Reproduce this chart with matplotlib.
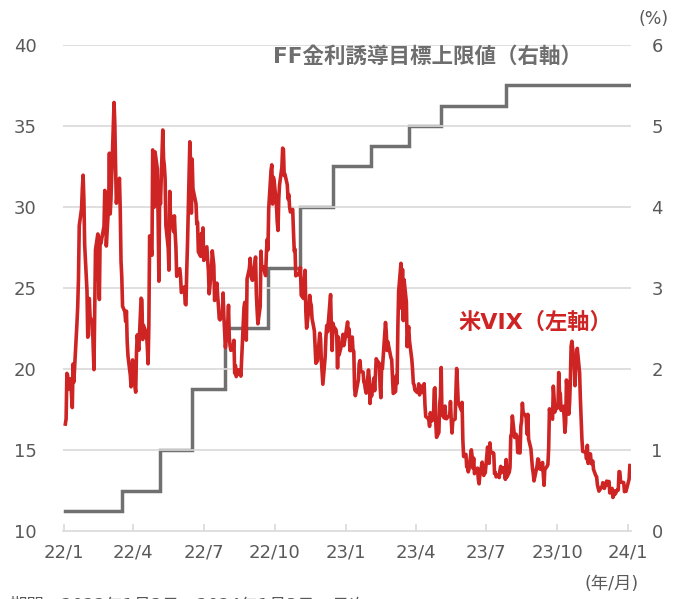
import numpy as np
import pandas as pd
import matplotlib
matplotlib.use("Agg")
import matplotlib.pyplot as plt
import matplotlib.dates as mdates

plt.rcParams['font.family'] = ['DejaVu Sans', 'Noto Sans CJK JP']

# ---- VIX daily closes, by month ----
vix_2022_01 = [16.60, 16.91, 19.73, 19.61, 18.76, 19.40, 18.41, 17.62, 20.31, 19.19, 22.79, 23.85, 25.59, 28.85, 29.90, 31.16, 31.96, 30.49, 27.66, 24.83]
vix_2022_02 = [21.96, 22.09, 24.35, 23.22, 22.86, 21.44, 19.96, 23.91, 27.36, 28.33, 25.70, 24.29, 28.11, 27.75, 28.81, 31.02, 30.32, 27.59, 30.15]
vix_2022_03 = [33.32, 29.57, 30.48, 31.98, 36.45, 35.13, 32.45, 30.23, 30.75, 31.77, 29.83, 26.67, 25.67, 23.87, 23.53, 22.94, 23.57, 21.67, 20.81, 19.63, 18.90, 19.33, 20.56]
vix_2022_04 = [19.63, 18.57, 21.03, 22.10, 21.55, 21.16, 24.37, 24.26, 21.82, 22.70, 22.17, 21.37, 20.32, 22.68, 28.21, 27.02, 33.52, 31.60, 29.99, 33.40]
vix_2022_05 = [32.34, 29.25, 25.42, 31.20, 30.19, 34.75, 32.99, 32.56, 31.77, 28.87, 27.47, 26.10, 30.96, 29.35, 29.43, 28.48, 29.45, 28.37, 27.50, 25.72, 26.19]
vix_2022_06 = [25.69, 24.72, 24.79, 25.07, 24.02, 23.96, 26.09, 27.75, 34.02, 32.69, 29.62, 32.95, 31.13, 30.19, 28.95, 29.05, 27.23, 26.95, 28.36, 28.16, 28.71]
vix_2022_07 = [26.70, 27.54, 26.73, 26.08, 24.64, 26.17, 27.29, 26.82, 26.40, 24.23, 25.30, 24.50, 23.88, 23.11, 23.03, 23.36, 24.69, 23.24, 22.33, 21.33]
vix_2022_08 = [22.84, 23.93, 21.95, 21.44, 21.15, 21.29, 21.77, 19.74, 20.20, 19.53, 19.95, 19.69, 19.90, 19.56, 20.60, 23.80, 24.11, 22.82, 21.78, 25.56, 26.21, 26.83, 25.87]
vix_2022_09 = [25.56, 25.47, 26.91, 24.64, 23.61, 22.79, 23.87, 27.27, 26.16, 26.27, 26.30, 25.76, 27.16, 27.99, 27.35, 29.92, 32.26, 32.60, 30.18, 31.84, 31.62]
vix_2022_10 = [30.10, 29.07, 28.55, 30.52, 31.36, 32.45, 33.63, 33.57, 31.94, 32.02, 31.37, 30.50, 30.76, 29.98, 29.69, 29.85, 28.46, 27.28, 27.39, 25.75, 25.88]
vix_2022_11 = [25.81, 25.86, 26.27, 24.55, 24.35, 25.54, 26.09, 23.53, 22.52, 23.73, 24.54, 24.11, 23.93, 23.12, 22.36, 21.35, 20.35, 20.50, 22.21, 21.89, 20.58]
vix_2022_12 = [19.84, 19.06, 20.75, 22.01, 22.68, 22.29, 22.83, 24.59, 22.55, 21.14, 22.83, 22.62, 22.42, 21.97, 20.07, 21.97, 20.87, 21.65, 22.14, 21.44, 21.67]
vix_2023_01 = [22.90, 22.01, 22.46, 21.13, 21.97, 21.09, 21.09, 18.83, 18.35, 19.36, 20.34, 20.52, 19.85, 19.81, 19.20, 19.08, 18.73, 18.51, 19.94, 19.40]
vix_2023_02 = [17.87, 18.73, 18.33, 19.43, 18.66, 19.63, 20.63, 20.53, 20.34, 18.91, 18.23, 20.17, 20.02, 22.87, 22.29, 21.14, 21.67, 20.95, 20.70]
vix_2023_03 = [20.58, 19.59, 18.49, 18.61, 19.59, 19.11, 22.61, 24.80, 26.52, 23.73, 26.14, 22.99, 25.51, 24.12, 21.38, 22.26, 22.61, 21.74, 20.60, 19.97, 19.12, 19.02, 18.70]
vix_2023_04 = [18.55, 18.58, 19.08, 18.40, 18.97, 18.53, 19.09, 17.80, 17.07, 16.95, 16.83, 16.46, 17.30, 16.77, 16.89, 18.76, 18.84, 16.70, 15.78]
vix_2023_05 = [16.08, 17.78, 18.34, 20.09, 17.19, 16.98, 17.71, 16.94, 16.93, 17.03, 17.12, 17.99, 16.87, 16.05, 16.81, 16.91, 18.53, 20.03, 19.14, 17.95, 17.46, 17.94]
vix_2023_06 = [15.65, 14.60, 14.73, 13.96, 13.94, 13.65, 13.83, 15.01, 14.61, 13.88, 14.50, 13.54, 13.88, 13.20, 12.91, 13.44, 14.25, 13.74, 13.43, 13.54, 13.59]
vix_2023_07 = [15.18, 14.18, 15.44, 14.83, 14.84, 14.78, 13.54, 13.61, 13.34, 13.48, 13.30, 13.76, 13.99, 13.60, 13.91, 13.86, 13.19, 14.41, 13.33, 13.63]
vix_2023_08 = [13.93, 15.88, 15.92, 17.10, 15.77, 15.99, 15.96, 15.85, 14.84, 14.82, 16.46, 16.78, 17.89, 17.30, 17.13, 16.97, 15.98, 17.20, 15.68, 15.08, 14.45, 13.88, 13.57]
vix_2023_09 = [13.09, 14.02, 14.45, 14.40, 13.84, 13.80, 14.23, 13.48, 12.82, 13.79, 14.00, 14.11, 15.14, 17.54, 17.20, 16.90, 18.94, 18.22, 17.34, 17.52]
vix_2023_10 = [17.61, 19.78, 18.58, 18.49, 17.45, 17.70, 17.03, 16.09, 16.69, 19.32, 17.21, 17.88, 19.22, 21.40, 21.71, 20.37, 18.97, 20.19, 20.68, 21.27, 19.75, 18.14]
vix_2023_11 = [16.87, 15.66, 14.91, 14.89, 14.81, 14.45, 15.29, 14.17, 14.76, 14.16, 14.18, 14.32, 13.80, 13.41, 13.35, 12.85, 12.46, 12.69, 12.69, 12.98, 12.92]
vix_2023_12 = [12.63, 13.08, 12.85, 12.97, 13.06, 12.35, 12.63, 12.07, 12.19, 12.48, 12.28, 12.56, 12.53, 13.67, 13.65, 13.03, 12.99, 12.43, 12.47, 12.45]
vix_2024_01 = [13.20, 14.04]

vix_months = [
    ("2022-01", vix_2022_01), ("2022-02", vix_2022_02), ("2022-03", vix_2022_03),
    ("2022-04", vix_2022_04), ("2022-05", vix_2022_05), ("2022-06", vix_2022_06),
    ("2022-07", vix_2022_07), ("2022-08", vix_2022_08), ("2022-09", vix_2022_09),
    ("2022-10", vix_2022_10), ("2022-11", vix_2022_11), ("2022-12", vix_2022_12),
    ("2023-01", vix_2023_01), ("2023-02", vix_2023_02), ("2023-03", vix_2023_03),
    ("2023-04", vix_2023_04), ("2023-05", vix_2023_05), ("2023-06", vix_2023_06),
    ("2023-07", vix_2023_07), ("2023-08", vix_2023_08), ("2023-09", vix_2023_09),
    ("2023-10", vix_2023_10), ("2023-11", vix_2023_11), ("2023-12", vix_2023_12),
    ("2024-01", vix_2024_01),
]

market_holidays = ["2022-01-17", "2022-02-21", "2022-04-15", "2022-05-30", "2022-06-20",
                   "2022-07-04", "2022-09-05", "2022-11-24", "2022-12-26",
                   "2023-01-02", "2023-01-16", "2023-02-20", "2023-04-07", "2023-05-29",
                   "2023-06-19", "2023-07-04", "2023-09-04", "2023-11-23", "2023-12-25",
                   "2024-01-01"]

# ---- FF rate target upper bound (step changes) ----
ff_dates = ["2022-01-03", "2022-03-17", "2022-05-05", "2022-06-16", "2022-07-28",
            "2022-09-22", "2022-11-03", "2022-12-15", "2023-02-02", "2023-03-23",
            "2023-05-04", "2023-07-27", "2024-01-03"]
ff_values = [0.25, 0.50, 1.00, 1.75, 2.50, 3.25, 4.00, 4.50, 4.75, 5.00, 5.25, 5.50, 5.50]

tick_dates = ["2022-01-01", "2022-04-01", "2022-07-01", "2022-10-01", "2023-01-01",
              "2023-04-01", "2023-07-01", "2023-10-01", "2024-01-01"]
tick_labels = ["22/1", "22/4", "22/7", "22/10", "23/1", "23/4", "23/7", "23/10", "24/1"]

# build trading dates
hol = pd.to_datetime(market_holidays)
vix_dates, vix_vals = [], []
for m, vals in vix_months:
    start = pd.Timestamp(m + "-01")
    end = start + pd.offsets.MonthEnd(0)
    if m == "2024-01":
        end = pd.Timestamp("2024-01-03")
    days = pd.bdate_range(start, end)
    days = days[~days.isin(hol)]
    if len(days) != len(vals):
        days = pd.date_range(start, end, periods=len(vals))
    vix_dates.extend(days)
    vix_vals.extend(vals)

RED = '#CE2424'
GRAY = '#707070'
TXT = '#595959'

fig = plt.figure(figsize=(6.79, 5.99), dpi=100)
ax = fig.add_axes([0.0928, 0.1135, 0.836, 0.8115])
ax2 = ax.twinx()

ax.set_ylim(10, 40)
ax2.set_ylim(0, 6)
xmin, xmax = pd.Timestamp("2021-12-31"), pd.Timestamp("2024-01-04")
ax.set_xlim(xmin, xmax)

ax.set_yticks([10, 15, 20, 25, 30, 35, 40])
ax2.set_yticks([0, 1, 2, 3, 4, 5, 6])
for y in [15, 20, 25, 30, 35, 40]:
    ax.axhline(y, color='#D9D9D9', lw=1.2, zorder=0)

ax2.step(pd.to_datetime(ff_dates), ff_values, where='post', color=GRAY, lw=2.5,
         solid_joinstyle='miter', zorder=2)
ax.plot(vix_dates, vix_vals, color=RED, lw=2.6, zorder=3, solid_joinstyle='round')
ax.set_zorder(ax2.get_zorder() + 1)
ax.patch.set_visible(False)

ax.set_xticks(pd.to_datetime(tick_dates))
ax.set_xticklabels(tick_labels)

for a in (ax, ax2):
    for s in a.spines.values():
        s.set_visible(False)
ax.spines['bottom'].set_visible(True)
ax.spines['bottom'].set_color('#D9D9D9')
ax.spines['bottom'].set_linewidth(1.2)

ax.tick_params(axis='x', direction='in', length=5, width=1.2, color='#D9D9D9',
               labelsize=13, labelcolor=TXT, pad=9)
ax.tick_params(axis='y', length=0, labelsize=13, labelcolor=TXT, pad=19)
ax2.tick_params(axis='y', length=0, labelsize=13, labelcolor=TXT, pad=15)

fig.text(0.963, 0.968, "(%)", ha='center', va='center', fontsize=12.5, color=TXT)
fig.text(0.9, 0.025, "(年/月)", ha='center', va='center', fontsize=12.5, color=TXT)
fig.text(0.014, 0.004, "期間：2022年1月3日～2024年1月3日、日次", ha='left', va='top',
         fontsize=12.5, color=TXT)

fig.text(0.629, 0.905, "FF金利誘導目標上限値（右軸）", ha='center', va='center',
         fontsize=15.5, fontweight='bold', color='#6E6E6E')
fig.text(0.789, 0.463, "米VIX（左軸）", ha='center', va='center',
         fontsize=16, fontweight='bold', color=RED)

fig.savefig("out.png", dpi=100)
